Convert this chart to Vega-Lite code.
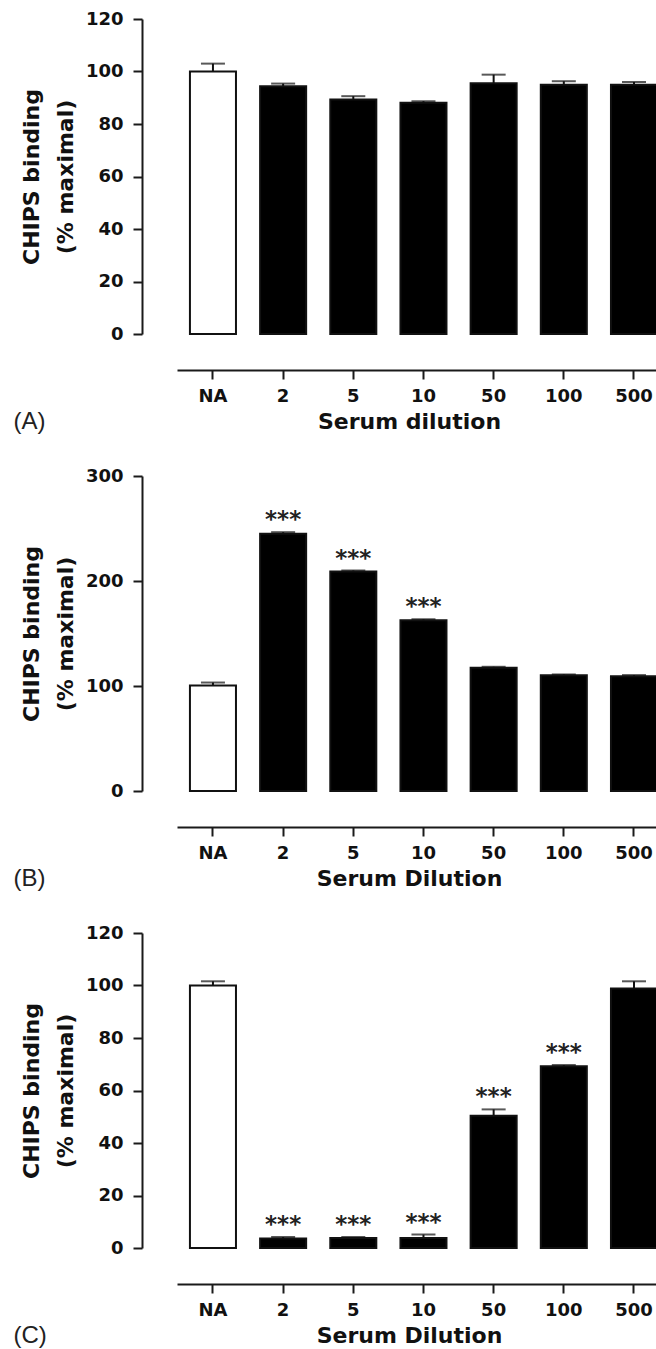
{
  "$schema": "https://vega.github.io/schema/vega-lite/v6.json",
  "background": "white",
  "padding": {"left": 13, "top": 10, "right": 0, "bottom": 0},
  "spacing": 33,
  "config": {
    "view": {"stroke": null},
    "axis": {
      "grid": false,
      "domainColor": "#1a1a1a", "domainWidth": 2,
      "tickColor": "#1a1a1a", "tickWidth": 2, "tickSize": 9,
      "labelFont": "DejaVu Sans", "labelFontWeight": "bold", "labelFontSize": 18, "labelColor": "#111",
      "titleFont": "DejaVu Sans", "titleFontWeight": "bold", "titleFontSize": 22, "titleColor": "#111"
    },
    "axisY": {"offset": 35, "labelPadding": 10, "titlePadding": 8, "titleLineHeight": 34},
    "axisX": {"offset": 36, "labelPadding": 8, "titlePadding": 6, "labelAngle": 0, "titleX": 232},
    "title": {"font": "Liberation Sans", "fontSize": 24, "fontWeight": "normal", "color": "#222", "orient": "bottom", "anchor": "start", "offset": -22, "dx": -7}
  },
  "datasets": {
    "A": [
      {"dilution": "NA", "mean": 100, "hi": 103, "sig": ""},
      {"dilution": "2", "mean": 94.4, "hi": 95.4, "sig": ""},
      {"dilution": "5", "mean": 89.3, "hi": 90.6, "sig": ""},
      {"dilution": "10", "mean": 88.1, "hi": 88.7, "sig": ""},
      {"dilution": "50", "mean": 95.5, "hi": 98.8, "sig": ""},
      {"dilution": "100", "mean": 95.0, "hi": 96.3, "sig": ""},
      {"dilution": "500", "mean": 95.0, "hi": 96.0, "sig": ""}
    ],
    "B": [
      {"dilution": "NA", "mean": 100.5, "hi": 103.3, "sig": ""},
      {"dilution": "2", "mean": 245, "hi": 246.5, "sig": "***"},
      {"dilution": "5", "mean": 209, "hi": 210, "sig": "***"},
      {"dilution": "10", "mean": 162.7, "hi": 163.5, "sig": "***"},
      {"dilution": "50", "mean": 117.4, "hi": 118.3, "sig": ""},
      {"dilution": "100", "mean": 110.2, "hi": 111, "sig": ""},
      {"dilution": "500", "mean": 109.2, "hi": 110.4, "sig": ""}
    ],
    "C": [
      {"dilution": "NA", "mean": 100, "hi": 101.6, "sig": ""},
      {"dilution": "2", "mean": 3.6, "hi": 4.2, "sig": "***"},
      {"dilution": "5", "mean": 3.8, "hi": 4.2, "sig": "***"},
      {"dilution": "10", "mean": 3.8, "hi": 5.1, "sig": "***"},
      {"dilution": "50", "mean": 50.4, "hi": 52.8, "sig": "***"},
      {"dilution": "100", "mean": 69.2, "hi": 69.7, "sig": "***"},
      {"dilution": "500", "mean": 98.9, "hi": 101.6, "sig": ""}
    ]
  },
  "vconcat": [
    {
      "width": 480, "height": 315,
      "data": {"name": "A"},
      "title": {"text": "(A)"},
      "encoding": {
        "x": {"field": "dilution", "type": "ordinal", "sort": ["NA", "2", "5", "10", "50", "100", "500"],
              "scale": {"paddingInner": 0.344, "paddingOuter": 0.0922, "align": 1},
              "axis": {"title": "Serum dilution"}}
      },
      "layer": [
        {"mark": {"type": "bar", "stroke": "#111", "strokeWidth": 2},
         "encoding": {
           "y": {"field": "mean", "type": "quantitative", "scale": {"domain": [0, 120]},
                 "axis": {"values": [0, 20, 40, 60, 80, 100, 120], "title": ["CHIPS binding", "(% maximal)"]}},
           "fill": {"condition": {"test": "datum.dilution === 'NA'", "value": "white"}, "value": "black"}
         }},
        {"mark": {"type": "rule", "strokeWidth": 2, "color": "#111"},
         "encoding": {"y": {"field": "mean", "type": "quantitative"}, "y2": {"field": "hi"}}},
        {"mark": {"type": "tick", "thickness": 2, "size": 24, "color": "#111"},
         "encoding": {"y": {"field": "hi", "type": "quantitative"}}},
        {"mark": {"type": "text", "font": "DejaVu Sans", "fontSize": 23, "fontWeight": "bold", "baseline": "alphabetic", "dy": -5, "color": "#222"},
         "encoding": {"y": {"field": "hi", "type": "quantitative"}, "text": {"field": "sig"}}}
      ]
    },
    {
      "width": 480, "height": 315,
      "data": {"name": "B"},
      "title": {"text": "(B)"},
      "encoding": {
        "x": {"field": "dilution", "type": "ordinal", "sort": ["NA", "2", "5", "10", "50", "100", "500"],
              "scale": {"paddingInner": 0.344, "paddingOuter": 0.0922, "align": 1},
              "axis": {"title": "Serum Dilution"}}
      },
      "layer": [
        {"mark": {"type": "bar", "stroke": "#111", "strokeWidth": 2},
         "encoding": {
           "y": {"field": "mean", "type": "quantitative", "scale": {"domain": [0, 300]},
                 "axis": {"values": [0, 100, 200, 300], "title": ["CHIPS binding", "(% maximal)"]}},
           "fill": {"condition": {"test": "datum.dilution === 'NA'", "value": "white"}, "value": "black"}
         }},
        {"mark": {"type": "rule", "strokeWidth": 2, "color": "#111"},
         "encoding": {"y": {"field": "mean", "type": "quantitative"}, "y2": {"field": "hi"}}},
        {"mark": {"type": "tick", "thickness": 2, "size": 24, "color": "#111"},
         "encoding": {"y": {"field": "hi", "type": "quantitative"}}},
        {"mark": {"type": "text", "font": "DejaVu Sans", "fontSize": 23, "fontWeight": "bold", "baseline": "alphabetic", "dy": -5, "color": "#222"},
         "encoding": {"y": {"field": "hi", "type": "quantitative"}, "text": {"field": "sig"}}}
      ]
    },
    {
      "width": 480, "height": 315,
      "data": {"name": "C"},
      "title": {"text": "(C)"},
      "encoding": {
        "x": {"field": "dilution", "type": "ordinal", "sort": ["NA", "2", "5", "10", "50", "100", "500"],
              "scale": {"paddingInner": 0.344, "paddingOuter": 0.0922, "align": 1},
              "axis": {"title": "Serum Dilution"}}
      },
      "layer": [
        {"mark": {"type": "bar", "stroke": "#111", "strokeWidth": 2},
         "encoding": {
           "y": {"field": "mean", "type": "quantitative", "scale": {"domain": [0, 120]},
                 "axis": {"values": [0, 20, 40, 60, 80, 100, 120], "title": ["CHIPS binding", "(% maximal)"]}},
           "fill": {"condition": {"test": "datum.dilution === 'NA'", "value": "white"}, "value": "black"}
         }},
        {"mark": {"type": "rule", "strokeWidth": 2, "color": "#111"},
         "encoding": {"y": {"field": "mean", "type": "quantitative"}, "y2": {"field": "hi"}}},
        {"mark": {"type": "tick", "thickness": 2, "size": 24, "color": "#111"},
         "encoding": {"y": {"field": "hi", "type": "quantitative"}}},
        {"mark": {"type": "text", "font": "DejaVu Sans", "fontSize": 23, "fontWeight": "bold", "baseline": "alphabetic", "dy": -5, "color": "#222"},
         "encoding": {"y": {"field": "hi", "type": "quantitative"}, "text": {"field": "sig"}}}
      ]
    }
  ]
}
